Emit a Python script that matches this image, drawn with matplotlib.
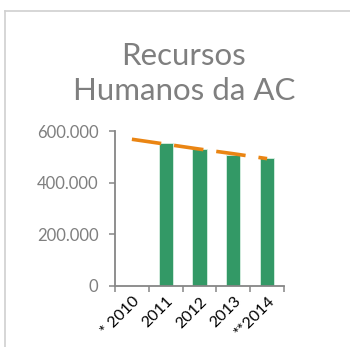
import matplotlib
matplotlib.use("Agg")
import matplotlib.pyplot as plt
from matplotlib.lines import Line2D
from matplotlib.ticker import FuncFormatter

# Data
years = ["* 2010", "2011", "2012", "2013", "**2014"]
staff = [0, 552000, 530000, 508000, 497000]
trend = [568000, 549000, 530000, 512000, 493000]
yticks = [0, 200000, 400000, 600000]
title_lines = ["Recursos", "Humanos da AC"]

plt.rcParams["font.family"] = ["Lato", "DejaVu Sans"]

fig = plt.figure(figsize=(3.5, 3.47), dpi=100)
fig.patch.set_facecolor("white")

# chart frame (top and left edges)
frame_col = "#d0d0d0"
fig.add_artist(Line2D([5 / 350, 1.0], [1 - 11 / 347, 1 - 11 / 347], transform=fig.transFigure,
                      color=frame_col, lw=1.2))
fig.add_artist(Line2D([5 / 350, 5 / 350], [0, 1 - 11 / 347], transform=fig.transFigure,
                      color=frame_col, lw=1.2))

ax = fig.add_axes([115 / 350, 1 - 286 / 347, 169 / 350, 155 / 347])

x = list(range(len(years)))
ax.bar(x, staff, width=0.42, color="#339966", edgecolor="#d8efe2", linewidth=0.6, zorder=2)
ax.plot(x, trend, color="#ea8513", lw=2.6, solid_capstyle="butt",
        dashes=(8.2, 3.6), dash_capstyle="butt", zorder=3)

ax.set_xlim(-0.5, len(years) - 0.5)
ax.set_ylim(0, 600000)

for s in ["top", "right"]:
    ax.spines[s].set_visible(False)
axis_col = "#868686"
ax.spines["left"].set_color(axis_col)
ax.spines["bottom"].set_color(axis_col)
ax.spines["left"].set_linewidth(1.3)
ax.spines["bottom"].set_linewidth(1.3)

ax.set_yticks(yticks)
ax.yaxis.set_major_formatter(FuncFormatter(lambda v, p: f"{int(v):,}".replace(",", ".")))
ax.tick_params(axis="y", colors=axis_col, labelcolor="#7f7f7f", labelsize=12,
               length=4, width=1.1, pad=8)

# category boundary ticks, labels at category centres
ax.set_xticks([i - 0.5 for i in range(len(years) + 1)])
ax.set_xticklabels([])
ax.set_xticks(x, minor=True)
ax.set_xticklabels(years, minor=True, rotation=45, ha="right", va="top",
                   rotation_mode="anchor", fontsize=11.5, color="black")
ax.tick_params(axis="x", which="major", colors=axis_col, length=4, width=1.1)
ax.tick_params(axis="x", which="minor", length=0, pad=6)

# two-line title, each line placed on its own baseline
for line, base in zip(title_lines, [65, 100]):
    fig.text(184 / 350, 1 - base / 347, line, ha="center", va="baseline",
             fontsize=22.5, color="#7f7f7f")

fig.savefig("out.png", dpi=100, facecolor="white")
